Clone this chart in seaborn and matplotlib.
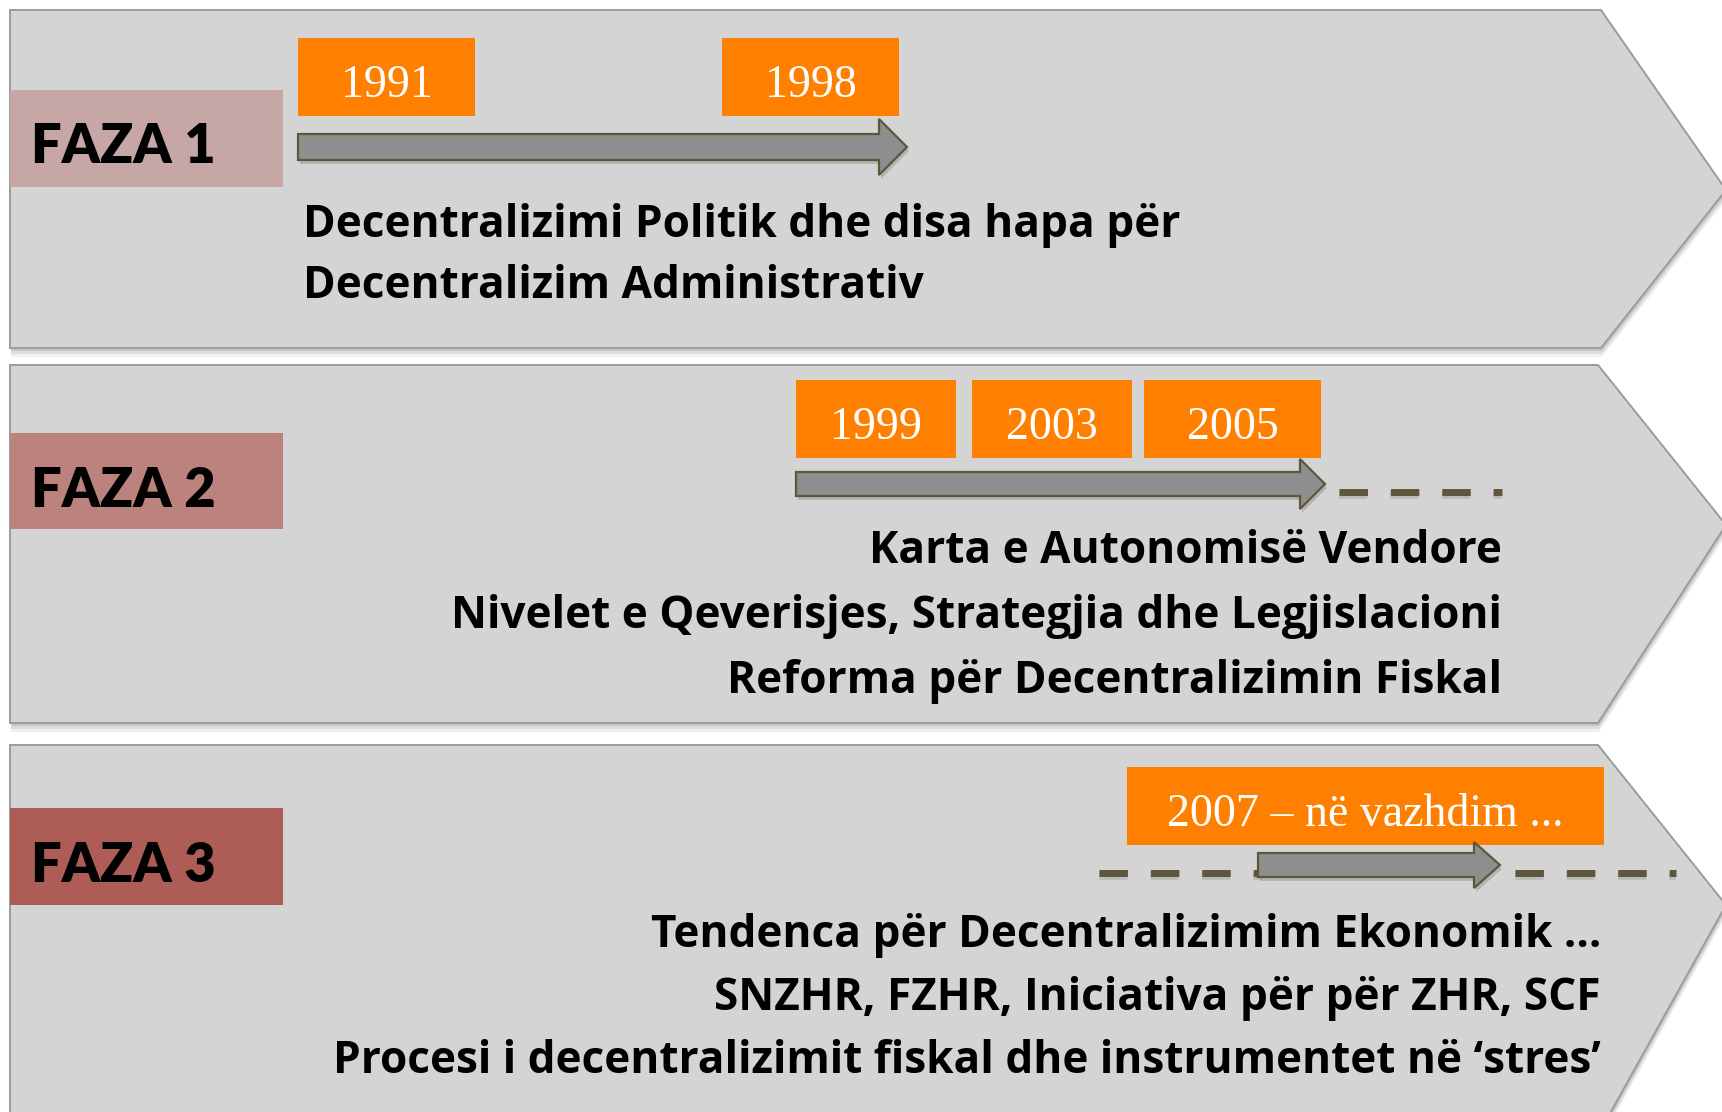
import matplotlib
matplotlib.use("Agg")
import matplotlib.pyplot as plt
from matplotlib.patches import Polygon, Rectangle
import seaborn as sns

# --- content ---------------------------------------------------------------
phase_labels = ["FAZA 1", "FAZA 2", "FAZA 3"]
phase_years = [
    ["1991", "1998"],
    ["1999", "2003", "2005"],
    ["2007 – në vazhdim ..."],
]
phase_texts = [
    ["Decentralizimi Politik dhe disa hapa për",
     "Decentralizim Administrativ"],
    ["Karta e Autonomisë Vendore",
     "Nivelet e Qeverisjes, Strategjia dhe Legjislacioni",
     "Reforma për Decentralizimin Fiskal"],
    ["Tendenca për Decentralizimim Ekonomik ...",
     "SNZHR, FZHR, Iniciativa për për ZHR, SCF",
     "Procesi i decentralizimit fiskal dhe instrumentet në ‘stres’"],
]

# --- layout (pixel space of a 1722x1112 canvas) ----------------------------
W, H = 1722, 1112
panel_top = [10, 365, 745]
panel_bot = [348, 723, 1135]
panel_right = [1601, 1598, 1598]
panel_tip = [(1726, 190), (1726, 525), (1726, 905)]
label_box = [(90, 187), (433, 529), (808, 905)]
label_base = [163, 507, 882]
label_colors = ["#c6a7a5", "#bb827e", "#ad5d56"]
year_boxes = [
    [(298, 475), (722, 899)],
    [(796, 956), (972, 1132), (1144, 1321)],
    [(1127, 1604)],
]
year_box_y = [(38, 116), (380, 458), (767, 845)]
# arrow: x start, head base, tip, centre y, shaft half, head half
arrows = [(298, 879, 907, 147, 13, 28),
          (796, 1300, 1325, 484, 12, 25),
          (1258, 1474, 1500, 865, 12, 23)]
dash_segments = [[], [(1339, 1502, 492)], [(1099, 1262, 873), (1515, 1676, 873)]]
text_x = [(303, "left"), (1502, "right"), (1601, "right")]
text_base = [[237, 298], [563, 628, 693], [947, 1010, 1073]]

panel_fill = "#d4d4d4"
panel_edge = "#9c9c9c"
orange = "#ff7f00"
arrow_fill = "#8e8e8e"
olive = "#5e573c"

sns.set_theme(style="white")
plt.rcParams["font.family"] = ["Open Sans", "DejaVu Sans"]
plt.rcParams["lines.scale_dashes"] = False

fig = plt.figure(figsize=(W / 100, H / 100), dpi=100)
ax = fig.add_axes([0, 0, 1, 1])
ax.set_xlim(0, W)
ax.set_ylim(H, 0)
ax.axis("off")

for i, label in enumerate(phase_labels):
    top, bot = panel_top[i], panel_bot[i]
    tx, ty = panel_tip[i]
    pts = [(10, top), (panel_right[i], top), (tx, ty), (panel_right[i], bot), (10, bot)]
    # soft shadow
    for k, a in zip([9, 6, 3], [0.06, 0.08, 0.1]):
        ax.add_patch(Polygon([(x + 1, y + k) for x, y in pts], closed=True,
                             fc="#000000", ec="none", alpha=a, zorder=1))
    ax.add_patch(Polygon(pts, closed=True, fc=panel_fill, ec=panel_edge,
                         lw=1.4, zorder=2))

    # phase label
    y0, y1 = label_box[i]
    ax.add_patch(Rectangle((10, y0), 273, y1 - y0, fc=label_colors[i], ec="none", zorder=3))
    ax.text(31, label_base[i], label, fontsize=39, fontweight="heavy", color="black",
            family=["Lato", "DejaVu Sans"], va="baseline", ha="left", zorder=4)

    # year boxes
    by0, by1 = year_box_y[i]
    for (bx0, bx1), year in zip(year_boxes[i], phase_years[i]):
        ax.add_patch(Rectangle((bx0, by0), bx1 - bx0, by1 - by0, fc=orange, ec="none", zorder=5))
        ax.text((bx0 + bx1) / 2, by1 - 19, year, fontsize=33, color="white",
                family=["Liberation Serif", "DejaVu Serif"], ha="center", va="baseline", zorder=6)

    # dashed continuation
    for dx0, dx1, dy in dash_segments[i]:
        ax.plot([dx0, dx1], [dy + 3, dy + 3], color="black", alpha=0.12, lw=5.5,
                dashes=(20.5, 16.5), solid_capstyle="butt", dash_capstyle="butt", zorder=3)
        ax.plot([dx0, dx1], [dy, dy], color=olive, lw=5, dashes=(20.5, 16.5),
                dash_capstyle="butt", zorder=4)

    # arrow
    x0, xh, xt, yc, sh, hh = arrows[i]
    apts = [(x0, yc - sh), (xh, yc - sh), (xh, yc - hh), (xt, yc),
            (xh, yc + hh), (xh, yc + sh), (x0, yc + sh)]
    ax.add_patch(Polygon([(x + 2, y + 4) for x, y in apts], closed=True, fc="black",
                         ec="none", alpha=0.15, zorder=4))
    ax.add_patch(Polygon(apts, closed=True, fc=arrow_fill, ec=olive, lw=1.6, zorder=5))

    # description lines
    tx_, ha = text_x[i]
    for line, yb in zip(phase_texts[i], text_base[i]):
        ax.text(tx_, yb, line, fontsize=31.8, fontweight="bold", color="black",
                ha=ha, va="baseline", zorder=6)

fig.savefig("out.png", dpi=100, facecolor="white")
